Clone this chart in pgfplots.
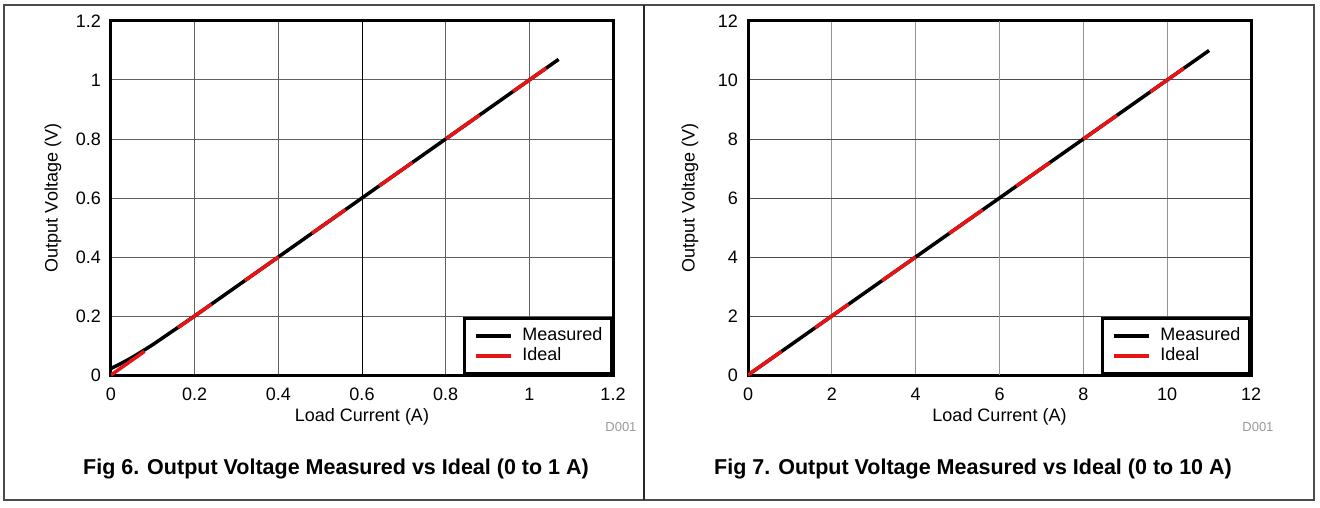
\documentclass[border=0pt]{standalone}
\usepackage{fontspec}
\setmainfont{Liberation Sans}
\usepackage{pgfplots}
\pgfplotsset{compat=1.18}

\definecolor{idealred}{RGB}{230,20,20}

\pgfplotsset{
  voutpanel/.style={
    scale only axis, width=502pt, height=354pt,
    anchor=south west,
    xmin=0, ymin=0,
    grid=major, major tick length=0pt,
    axis line style={line width=3pt},
    /pgf/number format/assume math mode=true,
    ticklabel style={font=\fontsize{18}{20}\selectfont},
    x tick label style={anchor=base, inner sep=0pt, yshift=-25.5pt},
    y tick label style={anchor=east, inner sep=0pt, xshift=-10pt},
    label style={font=\fontsize{18}{20}\selectfont},
    xlabel style={at={(axis description cs:0.5,-0.1186)}, anchor=center},
    ylabel style={at={(axis description cs:-0.1155,0.5)}, anchor=center},
    xlabel={Load Current (A)},
    ylabel={Output Voltage (V)},
    legend style={at={(1,0)}, anchor=south east, draw=black, line width=3pt,
      fill=white, font=\fontsize{18}{20}\selectfont,
      inner xsep=9pt, inner ysep=9pt, row sep=3pt, column sep=10pt,
      nodes={inner sep=0pt, text height=13pt, text depth=4pt}},
    legend cell align=left,
    legend image code/.code={\draw[#1,solid] (0pt,0pt) -- (35pt,0pt);},
  },
  measured/.style={black, line width=3.5pt, line join=round},
  ideal/.style={idealred, line width=3.5pt, dash pattern=on 41pt off 41pt},
}

\begin{document}
\begin{tikzpicture}
\useasboundingbox (0pt,0pt) rectangle (1320pt,507pt);
\draw[black!70, line width=1.5pt] (4pt,7pt) rectangle (1314pt,502pt);
\draw[black!85, line width=1.2pt] (644pt,7pt) -- (644pt,502pt);

% Fig 6: 0 to 1 A
\begin{axis}[voutpanel, at={(111pt,132pt)},
  xmax=1.2, ymax=1.2,
  xtick={0,0.2,...,1.2}, ytick={0,0.2,...,1.2},
  grid style={black!62, line width=1pt},
  extra x ticks={0.6}, extra x tick labels={},
  extra tick style={grid style={black, line width=1pt}},
]
\addplot[measured] coordinates {
  (0,0.022) (0.02,0.036) (0.05,0.059) (0.08,0.085) (0.1,0.103)
  (0.2,0.2) (0.4,0.4) (0.6,0.6) (0.8,0.8) (1.0,1.0) (1.07,1.07)};
\addlegendentry{Measured}
\addplot[ideal] coordinates {(0,0) (1.04,1.04)};
\addlegendentry{Ideal}
\end{axis}

% Fig 7: 0 to 10 A
\begin{axis}[voutpanel, at={(748pt,132pt)}, width=503pt,
  xmax=12, ymax=12,
  xtick={0,2,...,12}, ytick={0,2,...,12},
  x grid style={black!42, line width=1pt},
  y grid style={black!70, line width=1pt},
  extra x ticks={6}, extra x tick labels={},
  extra tick style={grid style={black, line width=1pt}},
]
\addplot[measured] coordinates {
  (0,0) (2,2) (4,4) (6,6) (8,8) (10,10) (11,11)};
\addlegendentry{Measured}
\addplot[ideal] coordinates {(0,0) (10.4,10.4)};
\addlegendentry{Ideal}
\end{axis}

\node[anchor=east, text=black!40, font=\fontsize{13}{15}\selectfont] at (640pt,80pt) {D001};
\node[anchor=east, text=black!40, font=\fontsize{13}{15}\selectfont] at (1277pt,80pt) {D001};
\node[font=\fontsize{21.5}{24}\selectfont\bfseries] at (336pt,38pt)
  {Fig 6. Output Voltage Measured vs Ideal (0 to 1 A)};
\node[font=\fontsize{21.5}{24}\selectfont\bfseries] at (973pt,38pt)
  {Fig 7. Output Voltage Measured vs Ideal (0 to 10 A)};
\end{tikzpicture}
\end{document}
